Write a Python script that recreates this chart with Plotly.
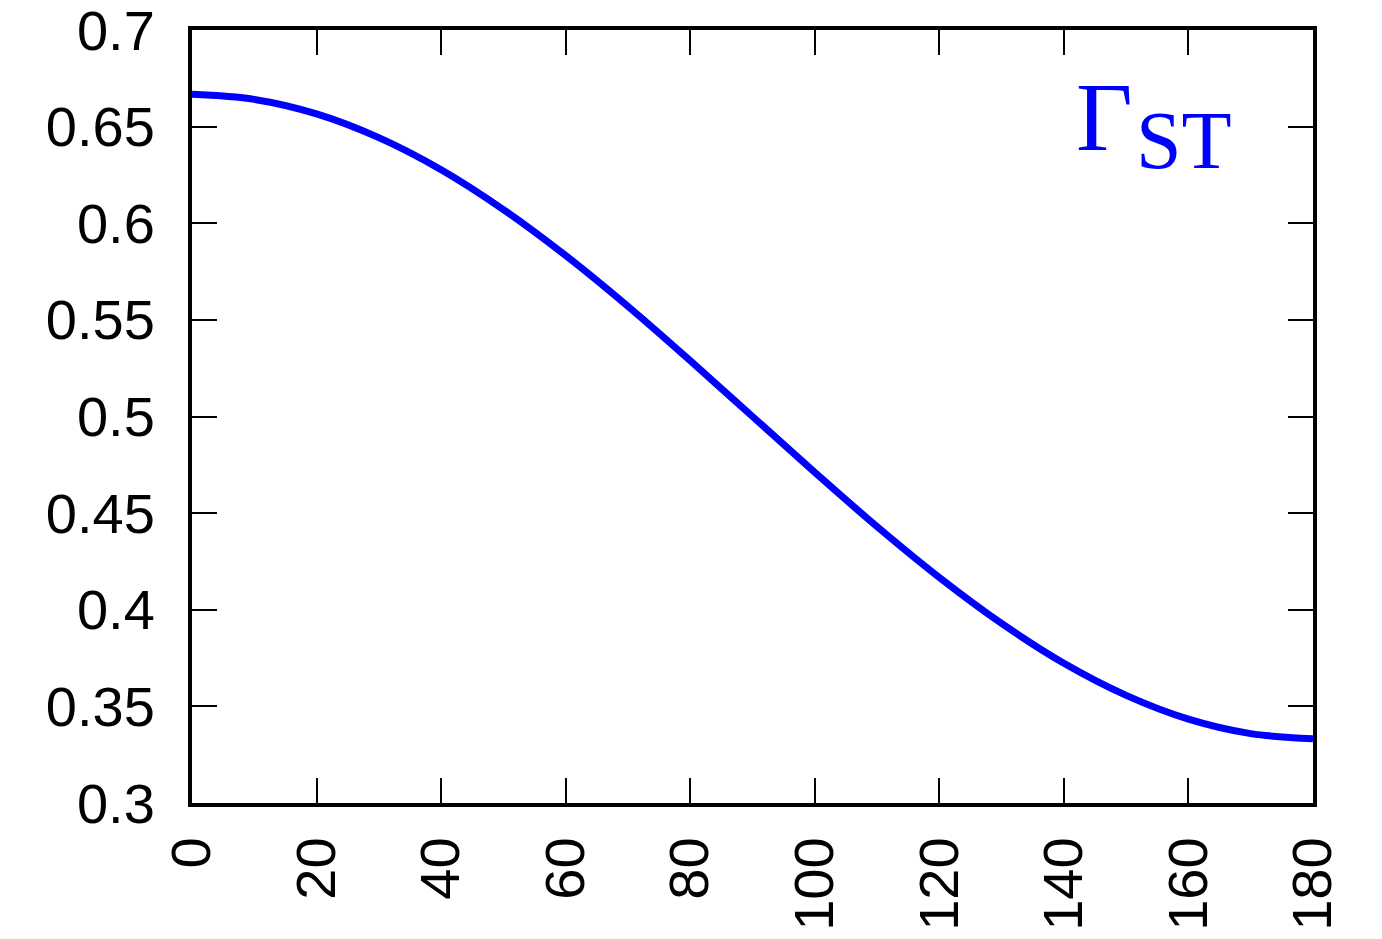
import plotly.graph_objects as go

angle_deg = [0, 10, 20, 30, 40, 50, 60, 70, 80, 90, 100, 110, 120, 130, 140, 150, 160, 170, 180]
gamma_st = [0.6667, 0.6641, 0.6566, 0.6443, 0.6277, 0.6071, 0.5833, 0.5570, 0.5289, 0.5000,
            0.4711, 0.4430, 0.4167, 0.3929, 0.3723, 0.3557, 0.3434, 0.3359, 0.3333]

x_ticks = [0, 20, 40, 60, 80, 100, 120, 140, 160, 180]
y_ticks = [0.3, 0.35, 0.4, 0.45, 0.5, 0.55, 0.6, 0.65, 0.7]
y_ticklabels = ["0.3", "0.35", "0.4", "0.45", "0.5", "0.55", "0.6", "0.65", "0.7"]

fig = go.Figure()
fig.add_trace(go.Scatter(x=angle_deg, y=gamma_st, mode="lines",
                         line=dict(color="#0000ff", width=7, shape="spline"),
                         showlegend=False))

axis_common = dict(showgrid=False, zeroline=False, ticks="inside", ticklen=25, tickwidth=1.5,
                   tickcolor="black", showline=True, linecolor="black", linewidth=4,
                   mirror="allticks", automargin=False, ticklabeloverflow="allow",
                   tickfont=dict(family="Liberation Sans, Arial", size=56, color="black"))

fig.update_xaxes(range=[0, 180], tickvals=x_ticks, tickangle=-90, ticklabelstandoff=8, **axis_common)
fig.update_yaxes(range=[0.3, 0.7], tickvals=y_ticks, ticktext=y_ticklabels, ticklabelstandoff=22, **axis_common)

fig.add_annotation(x=0.788, y=0.887, xref="paper", yref="paper", xanchor="left", yanchor="middle",
                   text="Γ", showarrow=False, borderpad=0,
                   font=dict(family="Liberation Serif, serif", size=98, color="#0000ff"))
fig.add_annotation(x=0.841, y=0.857, xref="paper", yref="paper", xanchor="left", yanchor="middle",
                   text="ST", showarrow=False, borderpad=0,
                   font=dict(family="Liberation Serif, serif", size=82, color="#0000ff"))

fig.update_layout(width=1382, height=939, margin=dict(l=192, r=69, t=30, b=136),
                  plot_bgcolor="white", paper_bgcolor="white")

fig.write_html("out.html")
